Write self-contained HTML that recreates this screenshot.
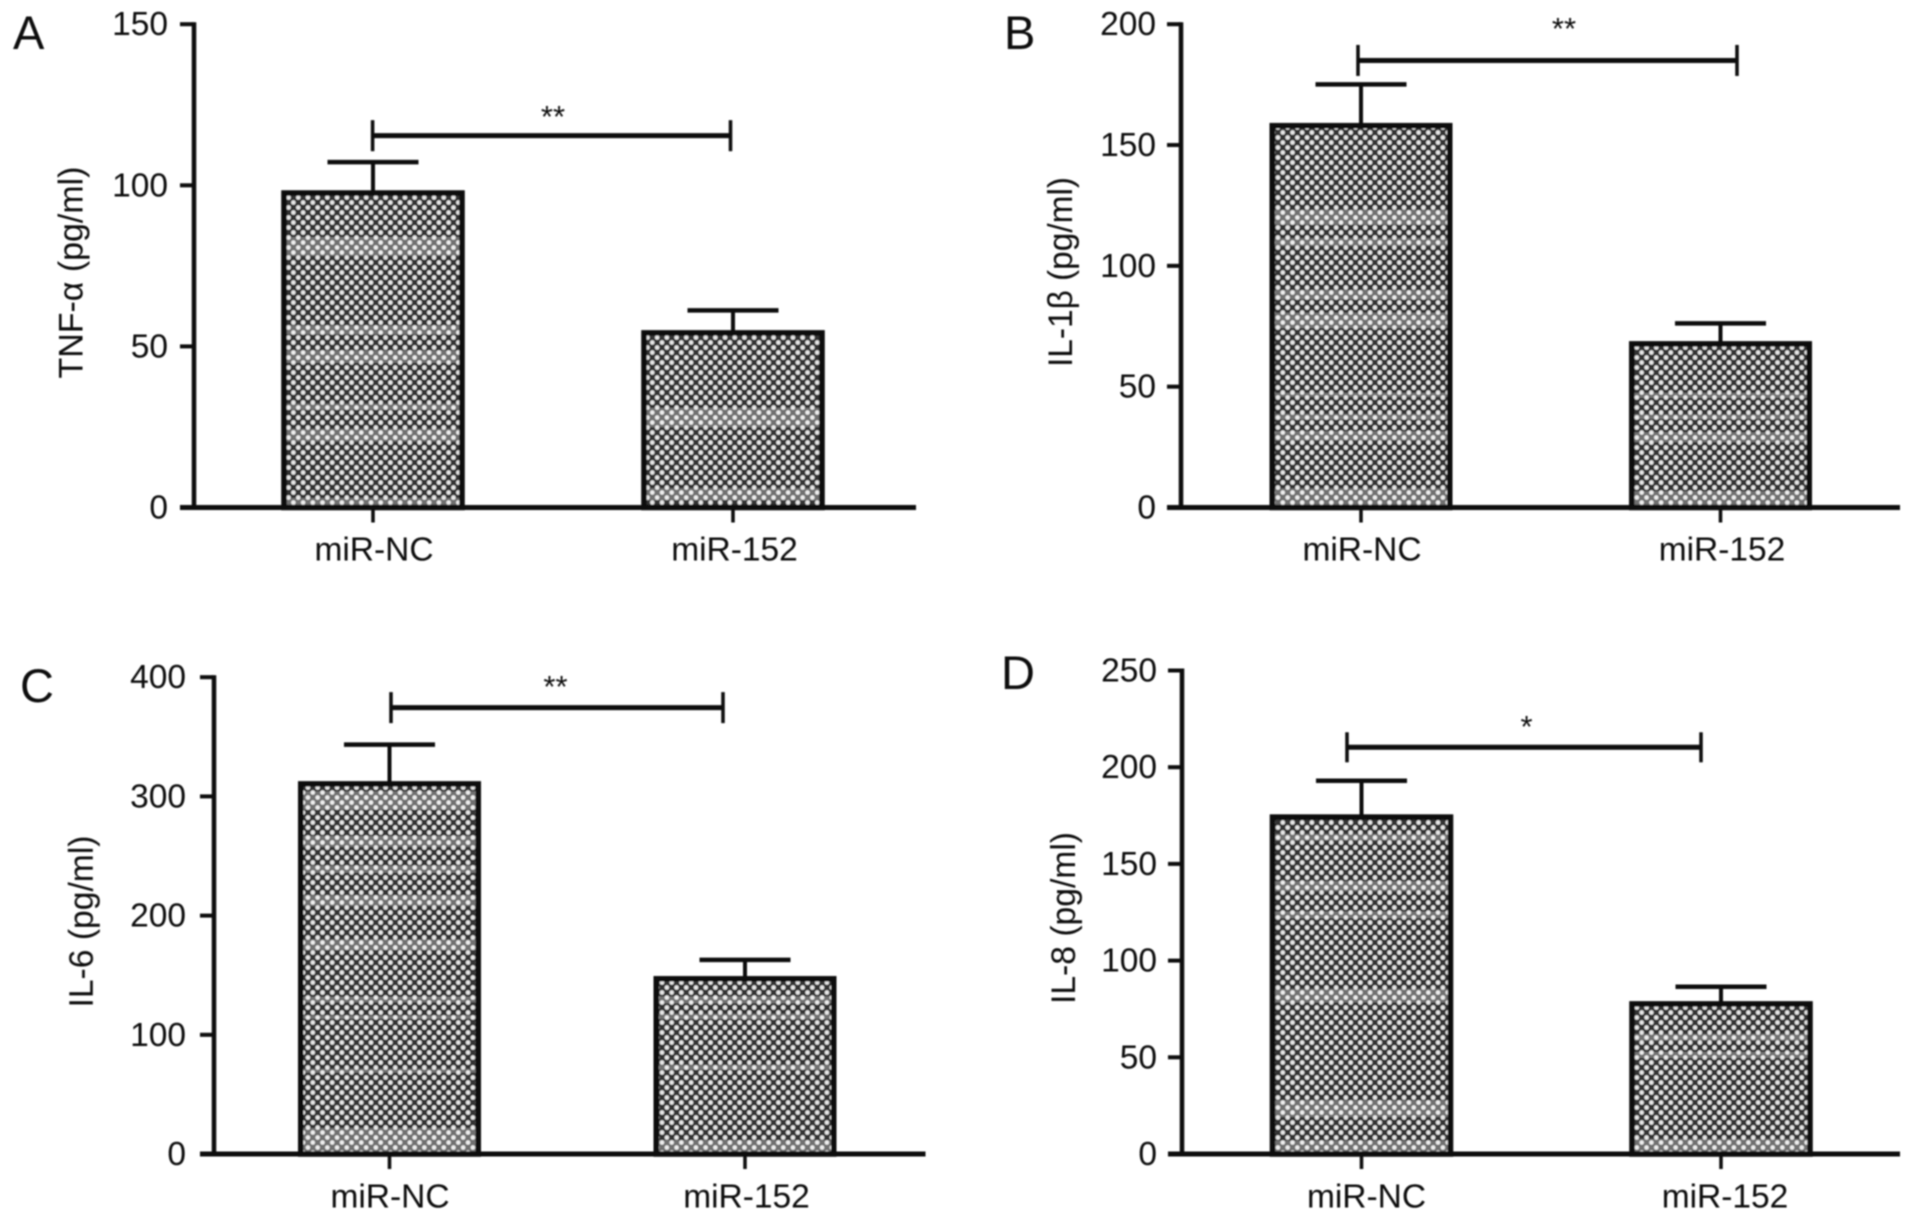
<!DOCTYPE html>
<html lang="en">
<head>
<meta charset="utf-8">
<title>Cytokine levels by miRNA group</title>
<style>
  html, body { margin: 0; padding: 0; background: #fff; }
  #figure { display: block; width: 1913px; height: 1220px; }
  #figure text { font-family: "Liberation Sans", Arial, sans-serif; fill: #0c0c0c; }
</style>
</head>
<body>
<svg id="figure" xmlns="http://www.w3.org/2000/svg" width="1913" height="1220" viewBox="0 0 1913 1220">
  <defs>
    <pattern id="dot-fill" patternUnits="userSpaceOnUse" width="9.7" height="10">
      <rect width="9.7" height="10" fill="#333333"></rect>
      <circle cx="2.4" cy="2.5" r="2.25" fill="#e8e8e8"></circle>
      <circle cx="7.25" cy="7.5" r="2.25" fill="#e8e8e8"></circle>
    </pattern>
    <filter id="soft" x="-2%" y="-2%" width="104%" height="104%">
      <feGaussianBlur stdDeviation="0.7"></feGaussianBlur>
    </filter>
  </defs>
  <rect x="0" y="0" width="1913" height="1220" fill="#ffffff"></rect>
  <g id="root" filter="url(#soft)"></g>
</svg>
<script>
const categories = ['miR-NC', 'miR-152'];

const panelLetters = ['A', 'B', 'C', 'D'];
const axisTitles = ['TNF-α (pg/ml)', 'IL-1β (pg/ml)', 'IL-6 (pg/ml)', 'IL-8 (pg/ml)'];

const ticksA = [0, 50, 100, 150];
const ticksB = [0, 50, 100, 150, 200];
const ticksC = [0, 100, 200, 300, 400];
const ticksD = [0, 50, 100, 150, 200, 250];

const meansA = [97.6, 54.2];
const meansB = [158, 67.7];
const meansC = [310.5, 147];
const meansD = [174.2, 77.6];

const errorTopsA = [107.2, 61.2];
const errorTopsB = [175.1, 76.2];
const errorTopsC = [343.4, 162.9];
const errorTopsD = [193, 86.5];

const bracketValueA = 115.4;
const bracketValueB = 185;
const bracketValueC = 374.5;
const bracketValueD = 210.3;

const significance = ['**', '**', '**', '*'];

/* Texture only: lighter moire bands, as fractions of bar height from bar top */
const texture = [
  [[[.14,.2],[.42,.45],[.5,.54],[.67,.69],[.75,.79],[.97,1]], [[.43,.54],[.89,.96]]],
  [[[.22,.26],[.295,.315],[.43,.455],[.49,.53],[.7,.71],[.755,.77],[.8,.825],[.95,1]], [[.3,.33],[.43,.46],[.54,.6],[.9,1]]],
  [[[.02,.07],[.14,.17],[.22,.24],[.3,.33],[.42,.45],[.575,.59],[.625,.635],[.77,.78],[.93,1]], [[.1,.14],[.2,.23],[.49,.52],[.92,1]]],
  [[[.05,.07],[.19,.22],[.28,.3],[.51,.55],[.84,.89],[.96,1]], [[.2,.245],[.32,.36],[.9,1]]]
];

/* Geometry of each panel (layout, not data) */
const layouts = [
  {axisX:194, axisEnd:916, y0:507.5, yTop:24.2, max:150, c0:373, step:360, bw:178, brL:372.6, brR:730.5, brHalf:15.5, starX:553, starY:127,
   tickRight:168, titleX:82.5, titleY:272.5, titleLen:212, letterX:13, letterY:49, catY:560.5, catShift:[1, 1.5]},
  {axisX:1181, axisEnd:1900, y0:507.5, yTop:24.2, max:200, c0:1361, step:359.5, bw:177.5, brL:1358, brR:1737, brHalf:15.5, starX:1564, starY:39,
   tickRight:1156, titleX:1072, titleY:272, titleLen:190, letterX:1004, letterY:49, catY:560.5, catShift:[1, 1.5]},
  {axisX:214, axisEnd:925.5, y0:1154, yTop:677.2, max:400, c0:389.5, step:355.5, bw:177.5, brL:391, brR:723, brHalf:15.5, starX:555.5, starY:697,
   tickRight:186, titleX:92.8, titleY:921.5, titleLen:172, letterX:20, letterY:702, catY:1207.5, catShift:[0.5, 1.5]},
  {axisX:1182, axisEnd:1900, y0:1154, yTop:670.5, max:250, c0:1361.5, step:359.5, bw:178, brL:1347, brR:1701, brHalf:15, starX:1526.5, starY:737,
   tickRight:1157, titleX:1075, titleY:918, titleLen:172, letterX:1001, letterY:689, catY:1207.5, catShift:[5, 4]}
];

const allTicks = [ticksA, ticksB, ticksC, ticksD];
const allMeans = [meansA, meansB, meansC, meansD];
const allErrorTops = [errorTopsA, errorTopsB, errorTopsC, errorTopsD];
const allBracketValues = [bracketValueA, bracketValueB, bracketValueC, bracketValueD];

const SVG_NS = 'http://www.w3.org/2000/svg';
const ink = '#0a0a0a';
const root = document.getElementById('root');

function make(tag, parent, attrs) {
  const node = document.createElementNS(SVG_NS, tag);
  for (const key in attrs) node.setAttribute(key, attrs[key]);
  parent.appendChild(node);
  return node;
}
function line(parent, x1, y1, x2, y2, width) {
  return make('line', parent, {x1, y1, x2, y2, stroke: ink, 'stroke-width': width});
}

panelLetters.forEach(function (letter, p) {
  const L = layouts[p];
  const yScale = function (v) { return L.y0 - (v / L.max) * (L.y0 - L.yTop); };
  const xScale = function (i) { return L.c0 + i * L.step; };
  const key = letter.toLowerCase();

  const panel = make('g', root, {});
  
  

  const label = make('text', panel, {x: L.letterX, y: L.letterY, 'font-size': 47});
  label.textContent = letter;
  
  

  const title = make('text', panel, {
    transform: 'translate(' + L.titleX + ',' + L.titleY + ') rotate(-90)',
    'text-anchor': 'middle', 'font-size': 34,
    textLength: L.titleLen, lengthAdjust: 'spacingAndGlyphs'
  });
  title.textContent = axisTitles[p];
  
  

  categories.forEach(function (cat, i) {
    const cx = xScale(i);
    const left = cx - L.bw / 2;
    const top = yScale(allMeans[p][i]);
    const height = L.y0 - top;

    const bar = make('g', panel, {});
    
    

    const errStem = line(bar, cx, yScale(allErrorTops[p][i]), cx, top, 4);
    
    

    const errCap = line(bar, cx - 45.5, yScale(allErrorTops[p][i]), cx + 45.5, yScale(allErrorTops[p][i]), 4.5);
    
    

    const fill = make('rect', bar, {x: left, y: top, width: L.bw, height: height, fill: 'url(#dot-fill)'});
    
    

    texture[p][i].forEach(function (band) {
      const strip = make('rect', bar, {
        x: left, y: top + band[0] * height, width: L.bw,
        height: (band[1] - band[0]) * height, fill: '#ffffff', opacity: 0.3
      });
      
      
    });

    const outline = make('rect', bar, {x: left, y: top, width: L.bw, height: height, fill: 'none', stroke: ink, 'stroke-width': 5.5});
    
    

    const tick = line(panel, cx, L.y0, cx, L.y0 + 15, 3.5);
    
    

    const catLabel = make('text', panel, {
      x: cx + L.catShift[i], y: L.catY,
      'text-anchor': 'middle', 'font-size': 33.5
    });
    catLabel.textContent = cat;
    
    
  });

  const yAxis = line(panel, L.axisX, L.yTop - 2, L.axisX, L.y0, 4.5);
  
  

  const xAxis = line(panel, L.axisX - 14, L.y0, L.axisEnd, L.y0, 5);
  
  

  allTicks[p].forEach(function (value) {
    const ty = yScale(value);
    const tick = line(panel, L.axisX - 14, ty, L.axisX, ty, 4);
    
    

    const tickLabel = make('text', panel, {
      x: L.tickRight, y: ty + 11,
      'text-anchor': 'end', 'font-size': 33.5
    });
    tickLabel.textContent = value;
    
    
  });

  const by = yScale(allBracketValues[p]);
  const bracket = make('g', panel, {});
  
  

  const span = line(bracket, L.brL, by, L.brR, by, 5);
  
  

  const endL = line(bracket, L.brL, by - L.brHalf, L.brL, by + L.brHalf, 3.5);
  
  

  const endR = line(bracket, L.brR, by - L.brHalf, L.brR, by + L.brHalf, 3.5);
  
  

  const stars = make('text', bracket, {x: L.starX, y: L.starY, 'text-anchor': 'middle', 'font-size': 31});
  stars.textContent = significance[p];
  
  
});
</script>
</body>
</html>
